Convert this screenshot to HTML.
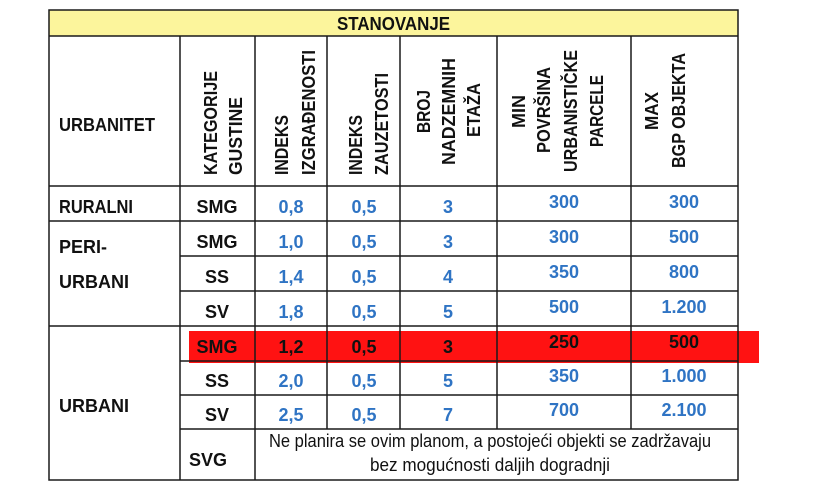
<!DOCTYPE html>
<html><head><meta charset="utf-8"><style>
html,body{margin:0;padding:0;background:#fff;}
svg{display:block;}
text{font-family:"Liberation Sans",sans-serif;font-weight:bold;font-size:18px;fill:#111;}
.b{fill:#2f74c4;text-anchor:middle;}
.k{text-anchor:middle;}
.r{font-size:16px;}
</style></head><body>
<svg width="840" height="486" viewBox="0 0 840 486" xmlns="http://www.w3.org/2000/svg">
<rect x="49" y="10" width="689" height="26" fill="#fcf59c"/>
<rect x="189" y="331" width="570" height="32" fill="#ff1212"/>
<g stroke="#1a1a1a" stroke-width="1.5" fill="none">
<rect x="49" y="10" width="689" height="470"/>
<line x1="49" y1="36" x2="738" y2="36"/>
<line x1="49" y1="186" x2="738" y2="186"/>
<line x1="49" y1="221" x2="738" y2="221"/>
<line x1="180" y1="256" x2="738" y2="256"/>
<line x1="180" y1="291" x2="738" y2="291"/>
<line x1="49" y1="326" x2="738" y2="326"/>
<line x1="180" y1="361" x2="738" y2="361"/>
<line x1="180" y1="395" x2="738" y2="395"/>
<line x1="180" y1="429" x2="738" y2="429"/>
<line x1="180" y1="36" x2="180" y2="480"/>
<line x1="255" y1="36" x2="255" y2="480"/>
<line x1="327" y1="36" x2="327" y2="429"/>
<line x1="400" y1="36" x2="400" y2="429"/>
<line x1="497" y1="36" x2="497" y2="429"/>
<line x1="631" y1="36" x2="631" y2="429"/>
</g>
<text x="337" y="30" textLength="113" lengthAdjust="spacingAndGlyphs">STANOVANJE</text>
<text x="59" y="131" textLength="96" lengthAdjust="spacingAndGlyphs">URBANITET</text>
<g class="r">
<text transform="translate(217,175) rotate(-90)" textLength="104" lengthAdjust="spacingAndGlyphs">KATEGORIJE</text>
<text transform="translate(242,175) rotate(-90)" textLength="78" lengthAdjust="spacingAndGlyphs">GUSTINE</text>
<text transform="translate(288,175) rotate(-90)" textLength="60" lengthAdjust="spacingAndGlyphs">INDEKS</text>
<text transform="translate(315,175) rotate(-90)" textLength="125" lengthAdjust="spacingAndGlyphs">IZGRAĐENOSTI</text>
<text transform="translate(362,175) rotate(-90)" textLength="60" lengthAdjust="spacingAndGlyphs">INDEKS</text>
<text transform="translate(388,175) rotate(-90)" textLength="102" lengthAdjust="spacingAndGlyphs">ZAUZETOSTI</text>
<text transform="translate(430,133) rotate(-90)" textLength="43" lengthAdjust="spacingAndGlyphs">BROJ</text>
<text transform="translate(455,165) rotate(-90)" textLength="107" lengthAdjust="spacingAndGlyphs">NADZEMNIH</text>
<text transform="translate(480,137) rotate(-90)" textLength="54" lengthAdjust="spacingAndGlyphs">ETAŽA</text>
<text transform="translate(525,128) rotate(-90)" textLength="33" lengthAdjust="spacingAndGlyphs">MIN</text>
<text transform="translate(550,153) rotate(-90)" textLength="86" lengthAdjust="spacingAndGlyphs">POVRŠINA</text>
<text transform="translate(577,172) rotate(-90)" textLength="122" lengthAdjust="spacingAndGlyphs">URBANISTIČKE</text>
<text transform="translate(603,147) rotate(-90)" textLength="72" lengthAdjust="spacingAndGlyphs">PARCELE</text>
<text transform="translate(658,130) rotate(-90)" textLength="38" lengthAdjust="spacingAndGlyphs">MAX</text>
<text transform="translate(685,168) rotate(-90)" textLength="115" lengthAdjust="spacingAndGlyphs">BGP OBJEKTA</text>
</g>
<text x="59" y="213" textLength="74" lengthAdjust="spacingAndGlyphs">RURALNI</text>
<text x="59" y="253">PERI-</text>
<text x="59" y="288">URBANI</text>
<text x="59" y="412">URBANI</text>
<text x="189" y="466">SVG</text>
<g>
<text class="k" x="217" y="213">SMG</text><text class="b" x="291" y="213">0,8</text><text class="b" x="364" y="213">0,5</text><text class="b" x="448" y="213">3</text><text class="b" x="564" y="208">300</text><text class="b" x="684" y="208">300</text>
<text class="k" x="217" y="248">SMG</text><text class="b" x="291" y="248">1,0</text><text class="b" x="364" y="248">0,5</text><text class="b" x="448" y="248">3</text><text class="b" x="564" y="243">300</text><text class="b" x="684" y="243">500</text>
<text class="k" x="217" y="283">SS</text><text class="b" x="291" y="283">1,4</text><text class="b" x="364" y="283">0,5</text><text class="b" x="448" y="283">4</text><text class="b" x="564" y="278">350</text><text class="b" x="684" y="278">800</text>
<text class="k" x="217" y="318">SV</text><text class="b" x="291" y="318">1,8</text><text class="b" x="364" y="318">0,5</text><text class="b" x="448" y="318">5</text><text class="b" x="564" y="313">500</text><text class="b" x="684" y="313">1.200</text>
<text class="k" x="217" y="353">SMG</text><text class="k" x="291" y="353">1,2</text><text class="k" x="364" y="353">0,5</text><text class="k" x="448" y="353">3</text><text class="k" x="564" y="348">250</text><text class="k" x="684" y="348">500</text>
<text class="k" x="217" y="387">SS</text><text class="b" x="291" y="387">2,0</text><text class="b" x="364" y="387">0,5</text><text class="b" x="448" y="387">5</text><text class="b" x="564" y="382">350</text><text class="b" x="684" y="382">1.000</text>
<text class="k" x="217" y="421">SV</text><text class="b" x="291" y="421">2,5</text><text class="b" x="364" y="421">0,5</text><text class="b" x="448" y="421">7</text><text class="b" x="564" y="416">700</text><text class="b" x="684" y="416">2.100</text>
</g>
<text class="k" x="490" y="447" style="font-weight:normal" textLength="442" lengthAdjust="spacingAndGlyphs">Ne planira se ovim planom, a postojeći objekti se zadržavaju</text>
<text class="k" x="490" y="471" style="font-weight:normal" textLength="240" lengthAdjust="spacingAndGlyphs">bez mogućnosti daljih dogradnji</text>
</svg>
</body></html>
